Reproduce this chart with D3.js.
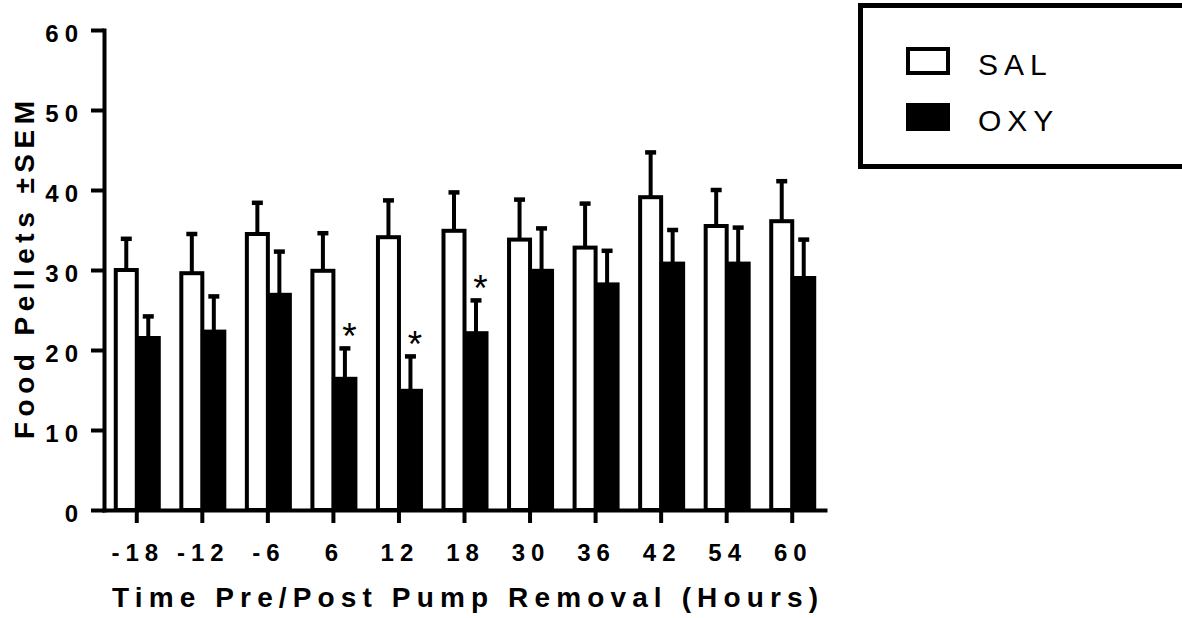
<!DOCTYPE html>
<html>
<head>
<meta charset="utf-8">
<script src="https://cdn.jsdelivr.net/npm/d3@7"></script>
<style>
  body { margin: 0; background: #fff; }
  svg { display: block; }
  text { font-family: "Liberation Sans", Arial, sans-serif; fill: #000; }
</style>
</head>
<body>
<div id="chart"></div>
<script>
// data
const categories = ["-18", "-12", "-6", "6", "12", "18", "30", "36", "42", "54", "60"];
const salMean = [30.0, 29.6, 34.5, 29.9, 34.1, 34.9, 33.8, 32.8, 39.1, 35.5, 36.1];
const salSem = [3.9, 4.9, 3.9, 4.7, 4.6, 4.8, 5.0, 5.5, 5.6, 4.5, 5.0];
const oxyMean = [21.5, 22.3, 26.9, 16.4, 14.9, 22.1, 29.9, 28.2, 30.8, 30.8, 29.0];
const oxySem = [2.7, 4.4, 5.4, 3.8, 4.3, 4.1, 5.3, 4.2, 4.2, 4.5, 4.8];
const significant = ["6", "12", "18"];
const seriesNames = ["SAL", "OXY"];
const yTicks = [0, 10, 20, 30, 40, 50, 60];

let chart = {
  width: 1182,
  height: 618,
  left: 104,
  right: 825,
  top: 30,
  bottom: 510
};

chart.svg = d3.select("#chart").append("svg")
  .attr("width", chart.width)
  .attr("height", chart.height);

chart.x = d3.scaleBand().domain(categories).range([chart.left, chart.right]);
chart.y = d3.scaleLinear().domain([0, 60]).range([chart.bottom, chart.top]);

let center = (c) => chart.x(c) + chart.x.bandwidth() / 2;

let rows = categories.map((c, i) => ({
  cat: c,
  sal: salMean[i], salE: salSem[i],
  oxy: oxyMean[i], oxyE: oxySem[i]
}));

// error bars (drawn first so the bars sit over the stems)
let errs = [];
rows.forEach(d => {
  errs.push({ x: center(d.cat) - 10.5, v: d.sal, e: d.salE });
  errs.push({ x: center(d.cat) + 11.5, v: d.oxy, e: d.oxyE });
});

let eb = chart.svg.append("g").attr("class", "errors")
  .attr("stroke", "#000").attr("stroke-width", 4);
eb.selectAll("line.stem").data(errs).enter().append("line")
  .attr("class", "stem")
  .attr("x1", d => d.x).attr("x2", d => d.x)
  .attr("y1", d => chart.y(d.v)).attr("y2", d => chart.y(d.v + d.e));
eb.selectAll("line.cap").data(errs).enter().append("line")
  .attr("class", "cap")
  .attr("x1", d => d.x - 5.5).attr("x2", d => d.x + 5.5)
  .attr("y1", d => chart.y(d.v + d.e)).attr("y2", d => chart.y(d.v + d.e))
  .attr("stroke-width", 4.5);

// SAL bars: white with black outline
chart.svg.append("g").selectAll("rect").data(rows).enter().append("rect")
  .attr("x", d => center(d.cat) - 21)
  .attr("width", 21)
  .attr("y", d => chart.y(d.sal))
  .attr("height", d => chart.y(0) - chart.y(d.sal))
  .attr("fill", "#fff")
  .attr("stroke", "#000")
  .attr("stroke-width", 4);

// OXY bars: solid black
chart.svg.append("g").selectAll("rect").data(rows).enter().append("rect")
  .attr("x", d => center(d.cat) - 1.5)
  .attr("width", 25.5)
  .attr("y", d => chart.y(d.oxy) - 2)
  .attr("height", d => chart.y(0) - chart.y(d.oxy) + 2)
  .attr("fill", "#000");

// asterisks over OXY bars
chart.svg.append("g").selectAll("text")
  .data(rows.filter(d => significant.includes(d.cat))).enter().append("text")
  .attr("x", d => center(d.cat) + 16)
  .attr("y", d => chart.y(d.oxy + d.oxyE) + 1)
  .attr("text-anchor", "middle")
  .style("font-size", "37px")
  .text("*");

// axes
let styleAxis = (g) => {
  g.select(".domain").attr("stroke-width", 4).attr("stroke-linecap", "square");
  g.selectAll(".tick line").attr("stroke-width", 4);
  g.selectAll(".tick text")
    .style("font-size", "24px")
    .style("font-weight", "bold")
    .style("letter-spacing", "6px");
};

chart.svg.append("g")
  .attr("class", "x axis")
  .attr("transform", "translate(0," + chart.bottom + ")")
  .call(d3.axisBottom(chart.x).tickSize(13).tickSizeOuter(0))
  .call(styleAxis)
  .call(g => g.selectAll(".tick text").attr("y", 51).attr("dy", null).attr("dx", 1));

chart.svg.append("g")
  .attr("class", "y axis")
  .attr("transform", "translate(" + chart.left + ",0)")
  .call(d3.axisLeft(chart.y).tickValues(yTicks).tickSize(13).tickSizeOuter(0))
  .call(styleAxis)
  .call(g => g.selectAll(".tick text").attr("x", -20).attr("dy", 11));

// axis titles
chart.svg.append("text")
  .attr("x", 465)
  .attr("y", 607)
  .attr("text-anchor", "middle")
  .attr("textLength", 706)
  .attr("lengthAdjust", "spacing")
  .style("font-size", "28px")
  .style("font-weight", "bold")
  .text("Time Pre/Post Pump Removal (Hours)");

chart.svg.append("text")
  .attr("transform", "translate(34,270) rotate(-90)")
  .attr("text-anchor", "middle")
  .attr("textLength", 338)
  .attr("lengthAdjust", "spacing")
  .style("font-size", "28px")
  .style("font-weight", "bold")
  .text("Food Pellets \u00b1SEM");

// legend
let legend = chart.svg.append("g").attr("class", "legend");
legend.append("rect")
  .attr("x", 860.5).attr("y", 5.5)
  .attr("width", 400).attr("height", 161)
  .attr("fill", "#fff").attr("stroke", "#000").attr("stroke-width", 5);

let items = legend.selectAll("g.item").data(seriesNames).enter().append("g")
  .attr("class", "item")
  .attr("transform", (d, i) => "translate(0," + (i * 56) + ")");

items.append("rect")
  .attr("x", (d, i) => i === 0 ? 908 : 906)
  .attr("y", (d, i) => i === 0 ? 49 : 47)
  .attr("width", (d, i) => i === 0 ? 40 : 44)
  .attr("height", (d, i) => i === 0 ? 24 : 28)
  .attr("fill", (d, i) => i === 0 ? "#fff" : "#000")
  .attr("stroke", (d, i) => i === 0 ? "#000" : "none")
  .attr("stroke-width", 4);

items.append("text")
  .attr("x", 978)
  .attr("y", 75)
  .style("font-size", "30px")
  .style("letter-spacing", "6px")
  .text(d => d);
</script>
</body>
</html>
